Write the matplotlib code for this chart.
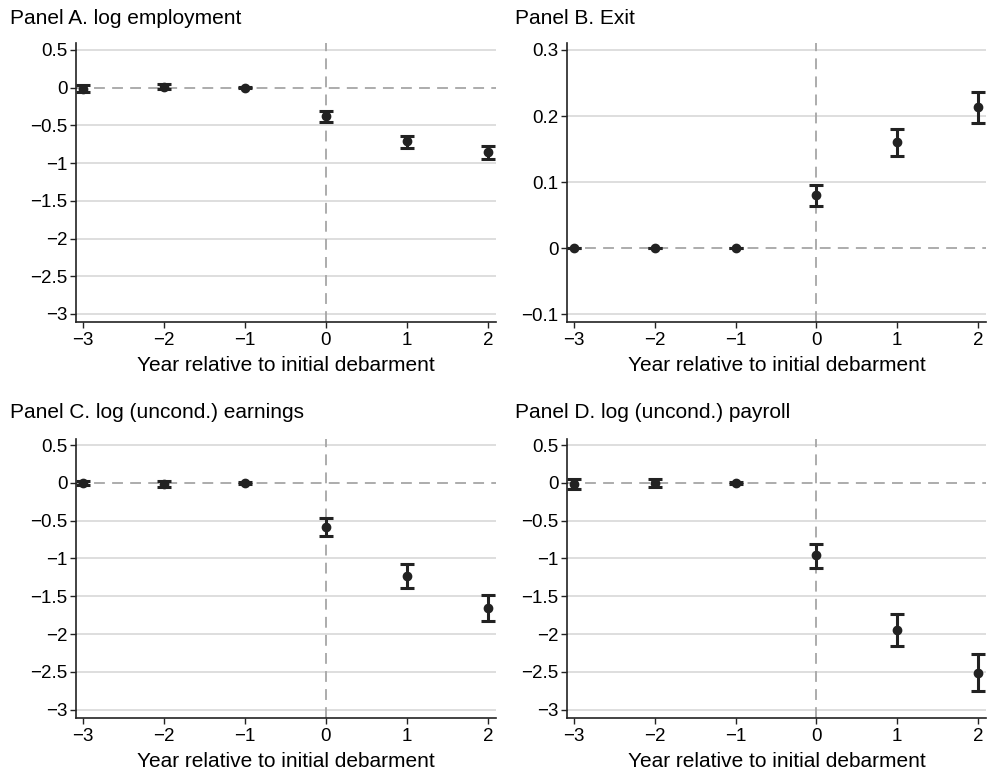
import matplotlib
matplotlib.use("Agg")
import matplotlib.pyplot as plt

plt.rcParams['font.family'] = ['Liberation Sans', 'DejaVu Sans']

years = [-3, -2, -1, 0, 1, 2]

# Panel A. log employment
emp = [-0.02, 0.013, 0.0, -0.38, -0.71, -0.86]
emp_lo = [-0.06, -0.02, -0.01, -0.45, -0.80, -0.95]
emp_hi = [0.03, 0.045, 0.01, -0.31, -0.64, -0.77]

# Panel B. Exit
exit_ = [0.0, 0.0, 0.0, 0.080, 0.160, 0.213]
exit_lo = [0.0, 0.0, 0.0, 0.063, 0.139, 0.189]
exit_hi = [0.0, 0.0, 0.0, 0.0955, 0.181, 0.236]

# Panel C. log (uncond.) earnings
earn = [0.0, -0.02, 0.0, -0.58, -1.226, -1.66]
earn_lo = [-0.03, -0.05, -0.01, -0.70, -1.385, -1.83]
earn_hi = [0.03, 0.02, 0.01, -0.465, -1.07, -1.48]

# Panel D. log (uncond.) payroll
pay = [-0.02, 0.0, 0.0, -0.96, -1.94, -2.51]
pay_lo = [-0.085, -0.05, -0.01, -1.12, -2.16, -2.75]
pay_hi = [0.05, 0.05, 0.01, -0.805, -1.73, -2.27]

log_ticks = [0.5, 0, -0.5, -1, -1.5, -2, -2.5, -3]
log_labels = ['0.5', '0', '\u22120.5', '\u22121', '\u22121.5', '\u22122', '\u22122.5', '\u22123']
exit_ticks = [0.3, 0.2, 0.1, 0, -0.1]
exit_labels = ['0.3', '0.2', '0.1', '0', '\u22120.1']
x_labels = ['\u22123', '\u22122', '\u22121', '0', '1', '2']

panels = [
    ("Panel A. log employment", emp, emp_lo, emp_hi, log_ticks, log_labels, (-3.106, 0.59)),
    ("Panel B. Exit", exit_, exit_lo, exit_hi, exit_ticks, exit_labels, (-0.112, 0.3106)),
    ("Panel C. log (uncond.) earnings", earn, earn_lo, earn_hi, log_ticks, log_labels, (-3.11, 0.58)),
    ("Panel D. log (uncond.) payroll", pay, pay_lo, pay_hi, log_ticks, log_labels, (-3.11, 0.58)),
]

W, H = 988, 769
fig = plt.figure(figsize=(W / 100, H / 100), dpi=100)

# axes boxes in pixels: left, top, right, bottom
boxes = [(76, 43, 496, 322), (567, 43, 986, 322),
         (76, 439, 496, 718), (567, 439, 986, 718)]
title_pos = [(10, 18), (515, 18), (10, 413), (515, 413)]

for (title, est, lo, hi, yt, yl, ylim), (l, t, r, b), (tx, ty) in zip(panels, boxes, title_pos):
    ax = fig.add_axes([l / W, 1 - b / H, (r - l) / W, (b - t) / H])
    for yv in yt:
        if yv != 0:
            ax.axhline(yv, color='#d4d4d4', lw=1.1, zorder=0)
    ax.axhline(0, color='#a6a6a6', lw=1.3, ls=(0, (6, 4)), zorder=1)
    ax.axvline(0, color='#a6a6a6', lw=1.3, ls=(0, (6, 4)), zorder=1)
    err = [[e - a for e, a in zip(est, lo)], [a - e for e, a in zip(est, hi)]]
    ax.errorbar(years, est, yerr=err, fmt='o', color='#222222', ms=6,
                elinewidth=2.2, capsize=5, capthick=2.2, zorder=3)
    ax.set_xlim(-3.086, 2.1)
    ax.set_ylim(*ylim)
    ax.set_yticks(yt)
    ax.set_yticklabels(yl)
    ax.set_xticks(years)
    ax.set_xticklabels(x_labels)
    ax.tick_params(labelsize=13.5, length=4, width=1, pad=2, color='#222222')
    ax.tick_params(axis='x', pad=3)
    for s in ['top', 'right']:
        ax.spines[s].set_visible(False)
    for s in ['left', 'bottom']:
        ax.spines[s].set_linewidth(1.2)
        ax.spines[s].set_color('#222222')
    ax.set_xlabel("Year relative to initial debarment", fontsize=15, labelpad=5)
    fig.text(tx / W, 1 - ty / H, title, fontsize=15, va='center', ha='left')

fig.savefig("out.png", dpi=100)
